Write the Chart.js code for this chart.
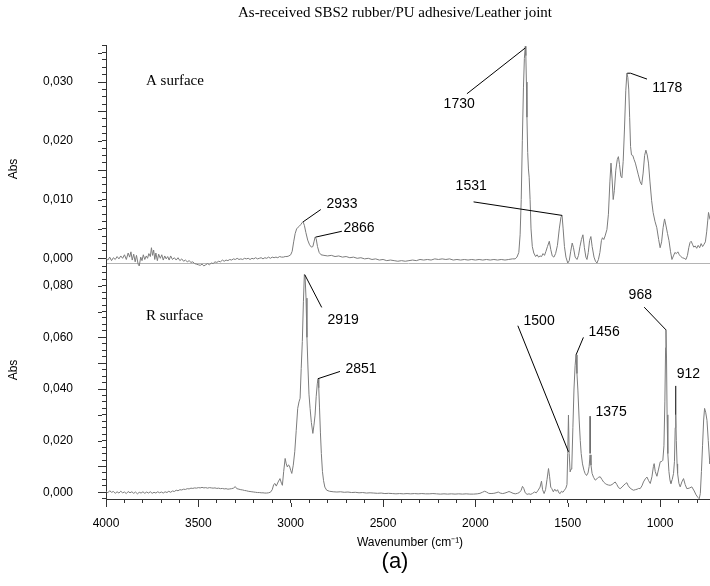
<!DOCTYPE html>
<html>
<head>
<meta charset="utf-8">
<script src="https://cdn.jsdelivr.net/npm/chart.js@4.4.0/dist/chart.umd.min.js"></script>
<style>
  html, body { margin: 0; padding: 0; background: #fff; }
  #wrap { position: relative; width: 710px; height: 586px; }
  #wrap canvas { position: absolute; left: 0; top: 0; }
</style>
</head>
<body>
<div id="wrap">
  <canvas id="chart-r" width="710" height="586"></canvas>
  <canvas id="chart-a" width="710" height="586"></canvas>
</div>
<script>
// FTIR spectra of the as-received SBS2 rubber / PU adhesive / leather joint.
// Two stacked panels sharing the (reversed) wavenumber axis.

// ---- A surface spectrum (wavenumber, absorbance) ----
const aWave = [
  4000, 3990, 3980, 3970, 3960, 3950, 3940, 3930, 3920, 3910, 3900, 3890, 3880, 3872, 3865, 3858,
  3850, 3842, 3835, 3826, 3820, 3812, 3805, 3798, 3790, 3782, 3775, 3768, 3760, 3754, 3748, 3742,
  3736, 3730, 3722, 3715, 3706, 3698, 3690, 3682, 3674, 3666, 3658, 3650, 3640, 3630, 3620, 3610,
  3600, 3590, 3580, 3570, 3560, 3550, 3540, 3530, 3520, 3510, 3500, 3490, 3480, 3470, 3460, 3450,
  3440, 3430, 3420, 3410, 3400, 3390, 3380, 3370, 3360, 3350, 3340, 3330, 3320, 3310, 3300, 3290,
  3280, 3270, 3260, 3250, 3240, 3230, 3220, 3210, 3200, 3190, 3180, 3170, 3160, 3150, 3140, 3130,
  3120, 3110, 3100, 3090, 3080, 3070, 3060, 3050, 3040, 3030, 3020, 3010, 3000, 2992, 2984, 2976,
  2968, 2960, 2952, 2944, 2938, 2933, 2926, 2918, 2908, 2898, 2888, 2880, 2874, 2868, 2862, 2855,
  2846, 2836, 2820, 2800, 2780, 2760, 2740, 2720, 2700, 2680, 2660, 2640, 2620, 2600, 2580, 2560,
  2540, 2520, 2500, 2480, 2460, 2440, 2420, 2400, 2380, 2360, 2340, 2320, 2300, 2280, 2260, 2240,
  2220, 2200, 2180, 2160, 2140, 2120, 2100, 2080, 2060, 2040, 2020, 2000, 1980, 1960, 1940, 1920,
  1900, 1880, 1860, 1840, 1820, 1800, 1785, 1775, 1765, 1758, 1752, 1746, 1740, 1735, 1730, 1727,
  1724, 1721, 1717, 1713, 1709, 1704, 1699, 1692, 1684, 1674, 1666, 1658, 1650, 1642, 1634, 1626,
  1618, 1610, 1600, 1592, 1584, 1575, 1566, 1556, 1546, 1537, 1531, 1525, 1518, 1510, 1500, 1492,
  1484, 1476, 1469, 1460, 1450, 1442, 1434, 1426, 1418, 1410, 1402, 1396, 1389, 1382, 1375, 1368,
  1358, 1350, 1342, 1334, 1326, 1318, 1312, 1305, 1298, 1288, 1280, 1272, 1266, 1260, 1254, 1248,
  1240, 1232, 1226, 1220, 1213, 1207, 1200, 1193, 1186, 1180, 1175, 1170, 1165, 1160, 1155, 1148,
  1141, 1134, 1126, 1118, 1108, 1100, 1092, 1084, 1077, 1070, 1063, 1055, 1046, 1038, 1028, 1018,
  1008, 1000, 992, 984, 976, 968, 960, 952, 944, 936, 928, 920, 912, 904, 896, 888,
  880, 870, 860, 852, 845, 838, 832, 825, 818, 810, 802, 794, 786, 778, 770, 762,
  755, 748, 742, 738, 734, 730
];
const aAbs = [
  0.0000, -0.0003, 0.0002, -0.0004, 0.0001, -0.0002, 0.0003, -0.0001, 0.0004, 0.0000, 0.0006, -0.0002, 0.0009, 0.0002, 0.0011, -0.0003,
  0.0007, -0.0006, 0.0005, -0.0010, -0.0013, 0.0002, -0.0004, 0.0006, -0.0002, 0.0004, 0.0000, 0.0008, 0.0003, 0.0018, 0.0005, 0.0014,
  -0.0002, 0.0009, -0.0004, 0.0007, 0.0000, 0.0006, -0.0003, 0.0004, -0.0001, 0.0003, -0.0003, 0.0004, -0.0002, 0.0001, -0.0003, 0.0001,
  -0.0004, -0.0001, -0.0005, -0.0003, -0.0006, -0.0004, -0.0007, -0.0006, -0.0009, -0.0010, -0.0011, -0.0012, -0.0010, -0.0013, -0.0011, -0.0009,
  -0.0011, -0.0008, -0.0009, -0.0006, -0.0007, -0.0005, -0.0006, -0.0003, -0.0005, -0.0003, -0.0004, -0.0002, -0.0003, -0.0001, -0.0002, 0.0000,
  -0.0002, -0.0001, -0.0002, 0.0000, -0.0001, 0.0000, -0.0002, 0.0000, -0.0001, 0.0001, -0.0001, 0.0000, 0.0001, -0.0001, 0.0001, 0.0000,
  0.0002, 0.0000, 0.0002, 0.0001, 0.0002, 0.0001, 0.0003, 0.0002, 0.0002, 0.0003, 0.0003, 0.0004, 0.0006, 0.0012, 0.0028, 0.0042,
  0.0050, 0.0053, 0.0055, 0.0058, 0.0061, 0.0062, 0.0056, 0.0044, 0.0031, 0.0023, 0.0019, 0.0020, 0.0028, 0.0036, 0.0033, 0.0020,
  0.0010, 0.0006, 0.0005, 0.0004, 0.0005, 0.0003, 0.0004, 0.0002, 0.0003, 0.0001, 0.0002, 0.0000, 0.0001, -0.0001, 0.0000, -0.0002,
  -0.0001, -0.0003, -0.0002, -0.0004, -0.0003, -0.0004, -0.0005, -0.0004, -0.0005, -0.0004, -0.0003, -0.0004, -0.0002, -0.0003, -0.0002, -0.0003,
  -0.0001, -0.0002, -0.0001, -0.0002, -0.0001, -0.0003, -0.0002, -0.0003, -0.0002, -0.0003, -0.0002, -0.0003, -0.0002, -0.0003, -0.0002, -0.0003,
  -0.0002, -0.0003, -0.0002, -0.0003, -0.0002, -0.0001, -0.0001, 0.0002, 0.0010, 0.0040, 0.0100, 0.0200, 0.0290, 0.0340, 0.0361, 0.0345,
  0.0300, 0.0240, 0.0180, 0.0152, 0.0138, 0.0100, 0.0050, 0.0020, 0.0009, 0.0003, 0.0006, 0.0002, 0.0004, 0.0003, 0.0008, 0.0005,
  0.0012, 0.0020, 0.0029, 0.0015, 0.0004, 0.0002, 0.0008, 0.0022, 0.0050, 0.0070, 0.0073, 0.0050, 0.0020, 0.0002, -0.0008, -0.0004,
  0.0012, 0.0026, 0.0018, 0.0002, -0.0002, 0.0005, 0.0020, 0.0032, 0.0040, 0.0018, 0.0002, -0.0002, 0.0010, 0.0030, 0.0037, 0.0020,
  0.0002, -0.0005, -0.0008, -0.0002, 0.0010, 0.0030, 0.0035, 0.0032, 0.0038, 0.0049, 0.0075, 0.0130, 0.0162, 0.0135, 0.0100, 0.0115,
  0.0150, 0.0168, 0.0173, 0.0160, 0.0140, 0.0137, 0.0165, 0.0220, 0.0285, 0.0315, 0.0308, 0.0288, 0.0240, 0.0190, 0.0176, 0.0175,
  0.0168, 0.0162, 0.0152, 0.0142, 0.0130, 0.0125, 0.0145, 0.0175, 0.0184, 0.0176, 0.0162, 0.0130, 0.0098, 0.0078, 0.0063, 0.0052,
  0.0032, 0.0018, 0.0028, 0.0052, 0.0067, 0.0055, 0.0042, 0.0030, 0.0012, -0.0002, 0.0004, 0.0010, 0.0008, 0.0011, 0.0006, 0.0003,
  0.0001, 0.0000, -0.0002, 0.0005, 0.0018, 0.0027, 0.0029, 0.0024, 0.0019, 0.0021, 0.0017, 0.0022, 0.0018, 0.0025, 0.0020, 0.0024,
  0.0028, 0.0045, 0.0065, 0.0078, 0.0072, 0.0066
];

// ---- R surface spectrum (wavenumber, absorbance) ----
const rWave = [
  4000, 3990, 3980, 3970, 3960, 3950, 3940, 3930, 3920, 3910, 3900, 3890, 3880, 3870, 3860, 3850,
  3840, 3830, 3820, 3810, 3800, 3790, 3780, 3770, 3760, 3750, 3740, 3730, 3720, 3710, 3700, 3690,
  3680, 3670, 3660, 3650, 3640, 3630, 3620, 3610, 3600, 3590, 3580, 3570, 3560, 3550, 3540, 3530,
  3520, 3510, 3500, 3490, 3480, 3470, 3460, 3450, 3440, 3430, 3420, 3410, 3400, 3390, 3380, 3370,
  3360, 3350, 3340, 3330, 3320, 3310, 3300, 3292, 3280, 3270, 3260, 3250, 3240, 3230, 3220, 3210,
  3200, 3190, 3180, 3170, 3160, 3150, 3140, 3130, 3120, 3110, 3100, 3092, 3085, 3078, 3068, 3058,
  3050, 3045, 3038, 3030, 3024, 3018, 3012, 3007, 3000, 2994, 2986, 2978, 2970, 2962, 2955, 2949,
  2943, 2937, 2931, 2926, 2922, 2917, 2912, 2907, 2901, 2895, 2888, 2880, 2874, 2868, 2862, 2856,
  2852, 2848, 2844, 2839, 2834, 2828, 2822, 2815, 2805, 2790, 2770, 2750, 2730, 2710, 2690, 2670,
  2650, 2630, 2610, 2590, 2570, 2550, 2530, 2510, 2490, 2470, 2450, 2430, 2410, 2390, 2370, 2350,
  2330, 2310, 2290, 2270, 2250, 2230, 2210, 2190, 2170, 2150, 2130, 2110, 2090, 2070, 2050, 2030,
  2010, 1990, 1975, 1962, 1950, 1940, 1928, 1915, 1900, 1888, 1876, 1866, 1852, 1840, 1828, 1818,
  1808, 1796, 1784, 1772, 1762, 1752, 1745, 1738, 1730, 1720, 1710, 1700, 1690, 1680, 1670, 1660,
  1650, 1642, 1636, 1628, 1620, 1612, 1604, 1598, 1592, 1586, 1578, 1570, 1562, 1555, 1548, 1541,
  1534, 1526, 1518, 1510, 1504, 1500, 1496, 1492, 1487, 1482, 1478, 1472, 1466, 1460, 1455, 1450,
  1445, 1438, 1432, 1427, 1420, 1412, 1406, 1398, 1390, 1384, 1379, 1374, 1368, 1360, 1351, 1342,
  1334, 1324, 1315, 1306, 1297, 1288, 1279, 1270, 1260, 1250, 1243, 1234, 1225, 1216, 1206, 1196,
  1188, 1180, 1172, 1162, 1152, 1144, 1134, 1124, 1116, 1108, 1098, 1090, 1080, 1071, 1062, 1053,
  1044, 1036, 1032, 1026, 1017, 1008, 999, 990, 985, 979, 974, 970, 968, 965, 962, 958,
  952, 946, 941, 934, 927, 922, 918, 915, 912, 908, 905, 898, 891, 882, 873, 864,
  855, 842, 828, 815, 805, 795, 788, 782, 776, 770, 764, 759, 753, 746, 739, 732,
  730
];
const rAbs = [
  0.0004, -0.0002, 0.0006, 0.0000, 0.0003, -0.0004, 0.0002, -0.0003, 0.0004, -0.0002, 0.0001, -0.0005, 0.0003, -0.0002, 0.0002, -0.0004,
  0.0001, -0.0006, 0.0000, -0.0003, 0.0002, -0.0004, 0.0001, -0.0003, 0.0002, -0.0004, 0.0000, -0.0003, 0.0002, -0.0002, 0.0001, -0.0003,
  0.0002, -0.0001, 0.0004, 0.0000, 0.0005, 0.0003, 0.0008, 0.0006, 0.0010, 0.0009, 0.0012, 0.0011, 0.0014, 0.0013, 0.0016, 0.0015,
  0.0017, 0.0016, 0.0018, 0.0017, 0.0019, 0.0017, 0.0018, 0.0016, 0.0018, 0.0017, 0.0016, 0.0017, 0.0015, 0.0016, 0.0014, 0.0015,
  0.0013, 0.0014, 0.0012, 0.0013, 0.0014, 0.0016, 0.0022, 0.0014, 0.0012, 0.0010, 0.0009, 0.0007, 0.0006, 0.0004, 0.0003, 0.0002,
  0.0001, 0.0000, -0.0001, -0.0001, -0.0002, -0.0002, -0.0003, -0.0003, -0.0002, 0.0000, 0.0010, 0.0030, 0.0034, 0.0024, 0.0040, 0.0053,
  0.0035, 0.0027, 0.0080, 0.0131, 0.0110, 0.0098, 0.0106, 0.0103, 0.0085, 0.0073, 0.0105, 0.0157, 0.0240, 0.0325, 0.0350, 0.0364,
  0.0480, 0.0584, 0.0740, 0.0843, 0.0835, 0.0752, 0.0600, 0.0493, 0.0380, 0.0325, 0.0270, 0.0228, 0.0260, 0.0299, 0.0370, 0.0420,
  0.0440, 0.0405, 0.0330, 0.0230, 0.0150, 0.0080, 0.0045, 0.0020, 0.0008, 0.0004, 0.0002, 0.0001, 0.0002, 0.0000, 0.0001, -0.0001,
  0.0000, -0.0002, -0.0001, -0.0003, -0.0002, -0.0003, -0.0004, -0.0003, -0.0005, -0.0004, -0.0005, -0.0006, -0.0005, -0.0006, -0.0005, -0.0006,
  -0.0005, -0.0006, -0.0005, -0.0006, -0.0006, -0.0005, -0.0006, -0.0007, -0.0006, -0.0007, -0.0006, -0.0007, -0.0006, -0.0007, -0.0006, -0.0007,
  -0.0007, -0.0006, -0.0004, 0.0000, 0.0004, 0.0001, -0.0004, -0.0005, -0.0004, -0.0002, 0.0001, -0.0003, -0.0005, -0.0003, 0.0000, 0.0003,
  0.0000, -0.0004, -0.0006, -0.0004, -0.0001, 0.0008, 0.0023, 0.0015, -0.0002, -0.0008, -0.0006, -0.0008, -0.0004, 0.0001, -0.0002, 0.0008,
  0.0020, 0.0043, 0.0010, -0.0005, 0.0010, 0.0050, 0.0092, 0.0060, 0.0020, 0.0014, 0.0002, 0.0012, 0.0004, 0.0010, -0.0002, -0.0005,
  0.0004, 0.0000, 0.0008, 0.0016, 0.0030, 0.0150, 0.0299, 0.0150, 0.0079, 0.0090, 0.0098, 0.0250, 0.0400, 0.0490, 0.0532, 0.0460,
  0.0396, 0.0280, 0.0200, 0.0150, 0.0110, 0.0085, 0.0073, 0.0065, 0.0075, 0.0100, 0.0145, 0.0105, 0.0073, 0.0058, 0.0047, 0.0052,
  0.0058, 0.0060, 0.0050, 0.0040, 0.0034, 0.0030, 0.0028, 0.0027, 0.0030, 0.0036, 0.0040, 0.0030, 0.0018, 0.0014, 0.0020, 0.0028,
  0.0033, 0.0037, 0.0025, 0.0016, 0.0011, 0.0008, 0.0010, 0.0012, 0.0015, 0.0014, 0.0025, 0.0040, 0.0052, 0.0059, 0.0045, 0.0034,
  0.0060, 0.0100, 0.0111, 0.0080, 0.0062, 0.0090, 0.0118, 0.0120, 0.0124, 0.0180, 0.0350, 0.0560, 0.0629, 0.0520, 0.0300, 0.0150,
  0.0080, 0.0045, 0.0034, 0.0050, 0.0073, 0.0120, 0.0250, 0.0300, 0.0200, 0.0110, 0.0073, 0.0035, 0.0021, 0.0040, 0.0053, 0.0030,
  0.0014, 0.0016, 0.0021, 0.0005, -0.0010, -0.0020, -0.0025, -0.0005, 0.0080, 0.0180, 0.0280, 0.0325, 0.0310, 0.0279, 0.0200, 0.0124,
  0.0110
];

// ---- Axis tick labels ----
const xTickLabels = [4000, 3500, 3000, 2500, 2000, 1500, 1000];
const aTickLabels = [0.000, 0.010, 0.020, 0.030];
const rTickLabels = [0.000, 0.020, 0.040, 0.060, 0.080];

// ---- Peak annotations: label, peak (wave, abs), bend, leader end, text centre (wave, abs) ----
const aPeakLabels = ["2933", "2866", "1730", "1531", "1178"];
const aPeakWave   = [2933, 2866, 1730, 1531, 1178];
const aPeakAbs    = [0.0062, 0.0036, 0.0358, 0.0073, 0.0315];
const aBendWave   = [2933, 2866, 1730, 1531, 1160];
const aBendAbs    = [0.0062, 0.0036, 0.0358, 0.0073, 0.0315];
const aLeadWave   = [2837, 2723, 2046, 2010, 1071];
const aLeadAbs    = [0.0083, 0.0046, 0.0280, 0.0096, 0.0305];
const aTextWave   = [2722, 2630, 2088, 2023, 961];
const aTextAbs    = [0.0093, 0.0051, 0.0263, 0.0122, 0.0289];

const rPeakLabels = ["2919", "2851", "1500", "1456", "1375", "968", "912"];
const rPeakWave   = [2924, 2852, 1496, 1455, 1379, 968, 915];
const rPeakAbs    = [0.0843, 0.0440, 0.0157, 0.0532, 0.0150, 0.0629, 0.0300];
const rBendWave   = rPeakWave;
const rBendAbs    = rPeakAbs;
const rLeadWave   = [2832, 2733, 1770, 1415, 1379, 1086, 915];
const rLeadAbs    = [0.0716, 0.0468, 0.0645, 0.0600, 0.0295, 0.0717, 0.0412];
const rTextWave   = [2716, 2619, 1655, 1303, 1265, 1107, 847];
const rTextAbs    = [0.0668, 0.0477, 0.0664, 0.0621, 0.0311, 0.0764, 0.0458];

const SANS = "'Liberation Sans', Arial, sans-serif";
const SERIF = "'Liberation Serif', 'Times New Roman', serif";
Chart.defaults.font.family = SANS;
Chart.defaults.color = "#000";

const isOneOf = (v, list) => list.some(t => Math.abs(t - v) < 1e-7);
const isMultiple = (v, step) => Math.abs(v / step - Math.round(v / step)) < 1e-6;

// Draws longer major ticks, the peak leader lines/labels and free texts.
const decor = {
  id: "decor",
  afterDraw(chart, args, opts) {
    const { ctx } = chart;
    const xs = chart.scales.x, ys = chart.scales.y;
    ctx.save();
    ctx.strokeStyle = "#333";
    ctx.lineWidth = 1;
    // major ticks on the y axis
    ys.ticks.forEach(t => {
      if (!isMultiple(t.value, opts.yMajor)) return;
      const py = Math.round(ys.getPixelForValue(t.value)) + 0.5;
      ctx.beginPath();
      ctx.moveTo(ys.right - 8, py);
      ctx.lineTo(ys.right - 4, py);
      ctx.stroke();
    });
    // major ticks on the x axis
    if (opts.xMajor) {
      xs.ticks.forEach(t => {
        if (!isMultiple(t.value, opts.xMajor)) return;
        const px = Math.round(xs.getPixelForValue(t.value)) + 0.5;
        ctx.beginPath();
        ctx.moveTo(px, xs.top + 4);
        ctx.lineTo(px, xs.top + 8);
        ctx.stroke();
      });
    }
    // peak leader lines and labels
    const p = opts.peaks;
    ctx.strokeStyle = "#000";
    ctx.fillStyle = "#000";
    ctx.font = "14px " + SANS;
    ctx.textAlign = "center";
    ctx.textBaseline = "middle";
    p.labels.forEach((lab, i) => {
      ctx.beginPath();
      ctx.moveTo(xs.getPixelForValue(p.wave[i]), ys.getPixelForValue(p.abs[i]));
      ctx.lineTo(xs.getPixelForValue(p.bendWave[i]), ys.getPixelForValue(p.bendAbs[i]));
      ctx.lineTo(xs.getPixelForValue(p.leadWave[i]), ys.getPixelForValue(p.leadAbs[i]));
      ctx.stroke();
      ctx.fillText(lab, xs.getPixelForValue(p.textWave[i]), ys.getPixelForValue(p.textAbs[i]));
    });
    // free texts
    opts.texts.forEach(t => {
      ctx.save();
      ctx.font = t.font;
      ctx.textAlign = t.align || "center";
      ctx.translate(t.x, t.y);
      if (t.rotate) ctx.rotate(t.rotate);
      ctx.fillText(t.text, 0, 0);
      ctx.restore();
    });
    ctx.restore();
  }
};

function yTickCallback(labels) {
  return v => isOneOf(v, labels) ? v.toFixed(3).replace(".", ",") : "";
}

function makeChart(id, wave, abs, cfg) {
  return new Chart(document.getElementById(id), {
    type: "line",
    data: {
      datasets: [{
        data: wave.map((w, i) => ({ x: w, y: abs[i] })),
        borderColor: "#7c7c7c",
        borderWidth: 1,
        pointRadius: 0,
        tension: 0,
        clip: { left: 0, top: 0, right: 0, bottom: 4 },
      }],
    },
    options: {
      responsive: false,
      animation: false,
      devicePixelRatio: 1,
      layout: { padding: { top: cfg.top, left: 0, right: 0, bottom: 0 } },
      plugins: {
        legend: { display: false },
        tooltip: { enabled: false },
        decor: cfg.decor,
      },
      scales: {
        x: {
          type: "linear",
          reverse: true,
          min: 730,
          max: 4000,
          afterFit: s => { s.height = 586 - cfg.bottom; },
          grid: { display: cfg.showX, drawOnChartArea: false, tickLength: 4, color: "#333" },
          border: { display: true, color: cfg.showX ? "#333" : "#b4b4b4", width: 1 },
          ticks: {
            display: cfg.showX,
            stepSize: 100,
            autoSkip: false,
            includeBounds: false,
            maxRotation: 0,
            padding: 13,
            font: { size: 12 },
            callback: v => isOneOf(v, xTickLabels) ? String(v) : "",
          },
        },
        y: {
          min: cfg.yMin,
          max: cfg.yMax,
          afterFit: s => { s.width = 106; },
          grid: { drawOnChartArea: false, tickLength: 4, color: "#333" },
          border: { display: true, color: "#333", width: 1 },
          ticks: {
            stepSize: cfg.yStep,
            autoSkip: false,
            includeBounds: false,
            padding: 29,
            font: { size: 12 },
            callback: yTickCallback(cfg.yLabels),
          },
        },
      },
    },
    plugins: [decor],
  });
}

makeChart("chart-r", rWave, rAbs, {
  top: 263, bottom: 499, yMin: -0.0026, yMax: 0.0888, yStep: 0.0025, yLabels: rTickLabels, showX: true,
  decor: {
    yMajor: 0.01, xMajor: 500,
    peaks: { labels: rPeakLabels, wave: rPeakWave, abs: rPeakAbs, bendWave: rBendWave, bendAbs: rBendAbs,
             leadWave: rLeadWave, leadAbs: rLeadAbs, textWave: rTextWave, textAbs: rTextAbs },
    texts: [
      { text: "R surface", x: 146, y: 316, align: "left", font: "15px " + SERIF },
      { text: "Abs", x: 14, y: 370, rotate: -Math.PI / 2, font: "12px " + SANS },
      { text: "Wavenumber (cm\u207B\u00B9)", x: 410, y: 543, font: "12px " + SANS },
      { text: "(a)", x: 395, y: 562, font: "22px " + SANS },
    ],
  },
});

makeChart("chart-a", aWave, aAbs, {
  top: 45, bottom: 263, yMin: -0.0008, yMax: 0.0363, yStep: 0.00125, yLabels: aTickLabels, showX: false,
  decor: {
    yMajor: 0.005, xMajor: null,
    peaks: { labels: aPeakLabels, wave: aPeakWave, abs: aPeakAbs, bendWave: aBendWave, bendAbs: aBendAbs,
             leadWave: aLeadWave, leadAbs: aLeadAbs, textWave: aTextWave, textAbs: aTextAbs },
    texts: [
      { text: "As-received SBS2 rubber/PU adhesive/Leather joint", x: 395, y: 13, font: "15px " + SERIF },
      { text: "A surface", x: 146, y: 81, align: "left", font: "15px " + SERIF },
      { text: "Abs", x: 14, y: 169, rotate: -Math.PI / 2, font: "12px " + SANS },
    ],
  },
});
</script>
</body>
</html>
